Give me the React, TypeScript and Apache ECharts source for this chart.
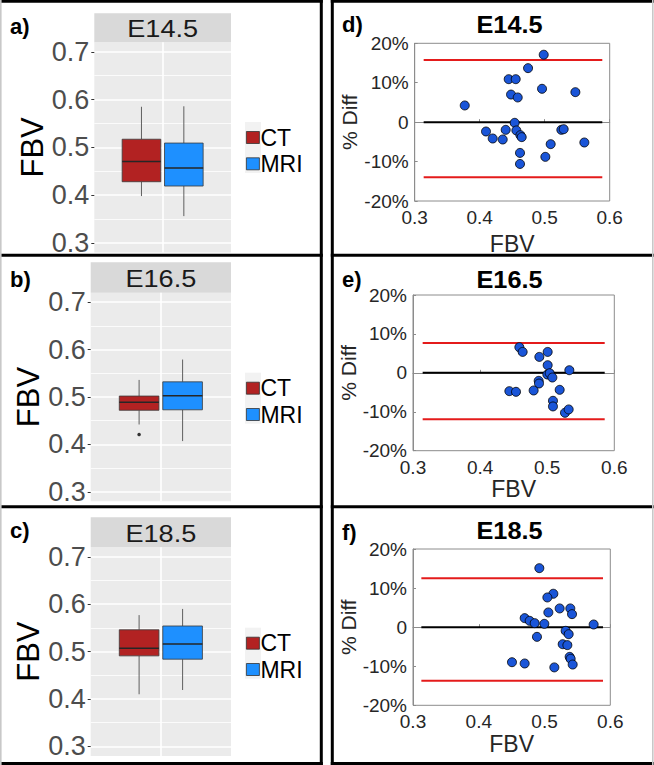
import React, { useEffect, useRef } from 'react';
import * as echarts from 'echarts';

// ---------------- DATA ----------------
const stages = ['E14.5', 'E16.5', 'E18.5'];
const groups = ['CT', 'MRI'];
const panelLettersLeft = ['a)', 'b)', 'c)'];
const panelLettersRight = ['d)', 'e)', 'f)'];

// box stats: [lower whisker, Q1, median, Q3, upper whisker]
const ctBoxes = [
  [0.398, 0.428, 0.4705, 0.517, 0.585],
  [0.442, 0.472, 0.489, 0.502, 0.536],
  [0.41, 0.491, 0.507, 0.546, 0.577],
];
const mriBoxes = [
  [0.356, 0.419, 0.457, 0.509, 0.586],
  [0.407, 0.473, 0.5025, 0.532, 0.579],
  [0.419, 0.484, 0.516, 0.554, 0.59],
];
const ctOutliers = [[], [0.421], []];
const mriOutliers = [[], [], []];
const fbvTicks = [0.3, 0.4, 0.5, 0.6, 0.7];
const fbvMinorTicks = [0.35, 0.45, 0.55, 0.65];

// Bland-Altman: mean FBV (x) and % difference (y)
const baMean145 = [0.377, 0.4446, 0.4554, 0.4482, 0.4585, 0.4744, 0.4985, 0.4959, 0.5472, 0.4538, 0.4097, 0.42, 0.4354, 0.44, 0.4564, 0.4626, 0.4646, 0.5256, 0.5292, 0.5092, 0.561, 0.462, 0.501, 0.462];
const baDiff145 = [4.23, 10.9, 10.9, 7.0, 6.26, 13.7, 17.1, 8.46, 7.61, -0.17, -2.37, -4.15, -4.4, -1.95, -2.1, -3.3, -3.8, -1.95, -1.78, -5.58, -5.16, -7.8, -8.8, -10.6];
const baMean165 = [0.4585, 0.4634, 0.4883, 0.5007, 0.5007, 0.533, 0.5002, 0.5037, 0.5077, 0.4873, 0.4878, 0.4436, 0.4535, 0.4798, 0.5186, 0.5086, 0.5086, 0.5265, 0.532];
const baDiff165 = [6.58, 5.38, 4.1, 5.38, 1.97, 0.68, -0.43, -0.09, -1.2, -2.05, -2.74, -4.7, -4.87, -4.53, -4.36, -7.18, -8.63, -10.26, -9.4];
const baMean185 = [0.4921, 0.5134, 0.5043, 0.5058, 0.523, 0.5392, 0.5418, 0.4698, 0.4774, 0.485, 0.4997, 0.5747, 0.5321, 0.5367, 0.4885, 0.5276, 0.5347, 0.5382, 0.5397, 0.5428, 0.4505, 0.4698, 0.5149];
const baDiff185 = [15.1, 8.55, 7.6, 3.76, 4.79, 4.79, 3.33, 2.31, 1.62, 1.03, 0.85, 0.68, -0.94, -1.8, -2.48, -4.36, -4.6, -7.6, -8.1, -9.57, -8.97, -9.3, -10.3];
const baMeans = [baMean145, baMean165, baMean185];
const baDiffs = [baDiff145, baDiff165, baDiff185];
const upperLoA = [15.76, 7.7, 12.5];
const lowerLoA = [-13.96, -11.9, -13.7];
const loaXStart = [0.3138, 0.3144, 0.3127];
const loaXEnd = [0.5886, 0.5857, 0.5889];

// ---------------- LAYOUT / STYLE ----------------
const FONT = '"Liberation Sans", Arial, Helvetica, sans-serif';
const CT_COLOR = '#B22222';
const MRI_COLOR = '#1E90FF';
const DODGE = 0.31;
const BOX_W = 0.565;

const boxLayout = [
  { left: 94.3, top: 42.3, width: 136.7, height: 210.1, stripTop: 13.3, nameGap: 45, legendTop: 126, letterY: 26 },
  { left: 90.7, top: 292.7, width: 140.3, height: 208.6, stripTop: 262.3, nameGap: 43, legendTop: 376.7, letterY: 279 },
  { left: 90.7, top: 547.3, width: 140.3, height: 208.6, stripTop: 517.3, nameGap: 43, legendTop: 631.7, letterY: 530 },
];
const baLayout = [
  { left: 414.7, right: 44.3, top: 43.3, height: 157.7, xNameGap: 31, titleY: 25, letterY: 24 },
  { left: 413, right: 39.7, top: 295, height: 155.7, xNameGap: 25, titleY: 280, letterY: 279 },
  { left: 413, right: 43.7, top: 549, height: 156.3, xNameGap: 24, titleY: 531, letterY: 532 },
];

const boxRender = (offset: number, fill: string) => (params: any, api: any) => {
  const x = api.value(0) + offset;
  const lo = api.value(1), q1 = api.value(2), md = api.value(3), q3 = api.value(4), hi = api.value(5);
  const pTL = api.coord([x - BOX_W / 2, q3]);
  const pBR = api.coord([x + BOX_W / 2, q1]);
  const pLo = api.coord([x, lo]);
  const pHi = api.coord([x, hi]);
  const pMd = api.coord([x, md]);
  const wStyle = { stroke: '#5f5f5f', lineWidth: 1 };
  return {
    type: 'group',
    children: [
      { type: 'line', shape: { x1: pHi[0], y1: pHi[1], x2: pHi[0], y2: pTL[1] }, style: wStyle },
      { type: 'line', shape: { x1: pLo[0], y1: pBR[1], x2: pLo[0], y2: pLo[1] }, style: wStyle },
      { type: 'rect', shape: { x: pTL[0], y: pTL[1], width: pBR[0] - pTL[0], height: pBR[1] - pTL[1] }, style: { fill, stroke: '#3a3a3a', lineWidth: 0.8 } },
      { type: 'line', shape: { x1: pTL[0], y1: pMd[1], x2: pBR[0], y2: pMd[1] }, style: { stroke: '#262626', lineWidth: 1.5 } },
    ],
  };
};

const outlierRender = (offset: number) => (params: any, api: any) => {
  const p = api.coord([api.value(0) + offset, api.value(1)]);
  return { type: 'circle', shape: { cx: p[0], cy: p[1], r: 1.8 }, style: { fill: '#333' } };
};

function buildOption() {
  const grid: any[] = [];
  const xAxis: any[] = [];
  const yAxis: any[] = [];
  const series: any[] = [];
  const legend: any[] = [];
  const graphic: any[] = [];

  // ----- box plot panels -----
  boxLayout.forEach((g, i) => {
    grid.push({ left: g.left, top: g.top, width: g.width, height: g.height, show: true, backgroundColor: '#EBEBEB', borderWidth: 0 });
    xAxis.push({
      gridIndex: i, type: 'value', min: 0, max: 2, interval: 1,
      axisLine: { show: false }, axisTick: { show: false }, axisLabel: { show: false },
      splitLine: { show: true, showMinLine: false, showMaxLine: false, lineStyle: { color: '#FFFFFF', width: 1.6 } },
    });
    yAxis.push({
      gridIndex: i, type: 'value', min: 0.28, max: 0.72,
      name: 'FBV', nameLocation: 'middle', nameGap: g.nameGap, nameRotate: 90,
      nameTextStyle: { fontSize: 31, color: '#000', fontFamily: FONT },
      axisLine: { show: false },
      axisTick: { show: true, length: 3, lineStyle: { color: '#333' }, customValues: fbvTicks },
      axisLabel: { customValues: fbvTicks, formatter: (v: number) => v.toFixed(1), fontSize: 27, color: '#4D4D4D', margin: 5, fontFamily: FONT },
      splitLine: { show: true, lineStyle: { color: '#FFFFFF', width: 1.6 } },
    });
    yAxis.push({
      gridIndex: i, type: 'value', min: 0.28, max: 0.72,
      axisLine: { show: false },
      axisTick: { show: false, customValues: fbvMinorTicks },
      axisLabel: { show: false, customValues: fbvMinorTicks },
      splitLine: { show: true, lineStyle: { color: '#FFFFFF', width: 0.8 } },
    });
    const yIdx = i * 2;
    series.push({
      type: 'custom', name: groups[0], xAxisIndex: i, yAxisIndex: yIdx,
      renderItem: boxRender(-DODGE, CT_COLOR), itemStyle: { color: CT_COLOR },
      encode: { x: 0, y: [1, 2, 3, 4, 5] },
      data: [[1, ...ctBoxes[i]]], z: 3,
    });
    series.push({
      type: 'custom', name: groups[1], xAxisIndex: i, yAxisIndex: yIdx,
      renderItem: boxRender(DODGE, MRI_COLOR), itemStyle: { color: MRI_COLOR },
      encode: { x: 0, y: [1, 2, 3, 4, 5] },
      data: [[1, ...mriBoxes[i]]], z: 3,
    });
    if (ctOutliers[i].length) {
      series.push({ type: 'custom', xAxisIndex: i, yAxisIndex: yIdx, renderItem: outlierRender(-DODGE), encode: { x: 0, y: 1 }, data: ctOutliers[i].map((v) => [1, v]), z: 4 });
    }
    if (mriOutliers[i].length) {
      series.push({ type: 'custom', xAxisIndex: i, yAxisIndex: yIdx, renderItem: outlierRender(DODGE), encode: { x: 0, y: 1 }, data: mriOutliers[i].map((v) => [1, v]), z: 4 });
    }
    // light key background like ggplot's legend key
    graphic.push({ type: 'rect', silent: true, z: -1, shape: { x: 245, y: g.legendTop - 4, width: 16, height: 51 }, style: { fill: '#F2F2F2' } });
    legend.push({
      data: groups, orient: 'vertical', left: 246, top: g.legendTop, padding: 0,
      itemWidth: 13, itemHeight: 12, itemGap: 3.3, icon: 'rect',
      itemStyle: { borderColor: '#333', borderWidth: 0.8 },
      textStyle: { fontSize: 23, lineHeight: 20, color: '#000', fontFamily: FONT, padding: [0, 0, 0, -4] },
      selectedMode: false,
    });
    // strip header
    graphic.push({ type: 'rect', silent: true, shape: { x: g.left, y: g.stripTop, width: g.width, height: g.top - g.stripTop }, style: { fill: '#D9D9D9' } });
    graphic.push({ type: 'text', silent: true, x: g.left + g.width / 2, y: (g.stripTop + g.top) / 2 + 1, scaleX: 1.13, style: { text: stages[i], fontSize: 24, fill: '#1A1A1A', align: 'center', verticalAlign: 'middle', fontFamily: FONT } });
    graphic.push({ type: 'text', silent: true, x: 10, y: g.letterY, style: { text: panelLettersLeft[i], fontSize: 22, fontWeight: 'bold', fill: '#000', align: 'left', verticalAlign: 'middle', fontFamily: FONT } });
  });

  // ----- Bland-Altman panels -----
  baLayout.forEach((g, j) => {
    const gi = 3 + j;
    grid.push({ left: g.left, right: g.right, top: g.top, height: g.height, show: true, backgroundColor: '#FFFFFF', borderColor: '#8C8C8C', borderWidth: 1 });
    xAxis.push({
      gridIndex: gi, type: 'value', min: 0.3, max: 0.6, interval: 0.1,
      name: 'FBV', nameLocation: 'middle', nameGap: g.xNameGap,
      nameTextStyle: { fontSize: 23, color: '#262626', fontFamily: FONT },
      axisLine: { show: true, lineStyle: { color: '#8C8C8C', width: 1 } },
      axisTick: { show: true, inside: true, length: 3, lineStyle: { color: '#8C8C8C' } },
      axisLabel: { formatter: (v: number) => v.toFixed(1), fontSize: 19, color: '#262626', margin: 7, fontFamily: FONT },
      splitLine: { show: false },
    });
    yAxis.push({
      gridIndex: gi, type: 'value', min: -20, max: 20, interval: 10,
      name: '% Diff', nameLocation: 'middle', nameGap: 50, nameRotate: 90,
      nameTextStyle: { fontSize: 21, color: '#262626', fontFamily: FONT },
      axisLine: { show: true, lineStyle: { color: '#8C8C8C', width: 1 } },
      axisTick: { show: true, inside: true, length: 3, lineStyle: { color: '#8C8C8C' } },
      axisLabel: { formatter: (v: number) => (v === 0 ? '0' : v + '%'), fontSize: 19, color: '#262626', margin: 6, fontFamily: FONT },
      splitLine: { show: false },
    });
    const yi = 6 + j;
    series.push({
      type: 'line', xAxisIndex: gi, yAxisIndex: yi, symbol: 'none', silent: true,
      lineStyle: { color: '#E41B1B', width: 2 },
      data: [[loaXStart[j], upperLoA[j]], [loaXEnd[j], upperLoA[j]]], z: 2,
    });
    series.push({
      type: 'line', xAxisIndex: gi, yAxisIndex: yi, symbol: 'none', silent: true,
      lineStyle: { color: '#E41B1B', width: 2 },
      data: [[loaXStart[j], lowerLoA[j]], [loaXEnd[j], lowerLoA[j]]], z: 2,
    });
    series.push({
      type: 'line', xAxisIndex: gi, yAxisIndex: yi, symbol: 'none', silent: true,
      lineStyle: { color: '#000000', width: 2 },
      data: [[loaXStart[j], 0], [loaXEnd[j], 0]], z: 2,
    });
    series.push({
      type: 'scatter', xAxisIndex: gi, yAxisIndex: yi, symbolSize: 9,
      itemStyle: { color: '#1A55D8', borderColor: '#000', borderWidth: 0.8, opacity: 1 },
      data: baMeans[j].map((m, k) => [m, baDiffs[j][k]]), z: 5,
    });
    graphic.push({ type: 'text', silent: true, x: 509.5, y: g.titleY, scaleX: 1.1, style: { text: stages[j], fontSize: 23, fontWeight: 'bold', fill: '#000', align: 'center', verticalAlign: 'middle', fontFamily: FONT } });
    graphic.push({ type: 'text', silent: true, x: 342, y: g.letterY, style: { text: panelLettersRight[j], fontSize: 22, fontWeight: 'bold', fill: '#000', align: 'left', verticalAlign: 'middle', fontFamily: FONT } });
  });

  // ----- panel frames -----
  const B = { stroke: '#000', lineWidth: 3 };
  const rowLines = [1.3, 255.3, 506.7, 763.5];
  rowLines.forEach((y) => {
    graphic.push({ type: 'line', silent: true, z: 100, shape: { x1: 0, y1: y, x2: 322.8, y2: y }, style: B });
    graphic.push({ type: 'line', silent: true, z: 100, shape: { x1: 330.8, y1: y, x2: 654, y2: y }, style: B });
  });
  graphic.push({ type: 'line', silent: true, z: 100, shape: { x1: 321.3, y1: 0, x2: 321.3, y2: 765 }, style: B });
  graphic.push({ type: 'line', silent: true, z: 100, shape: { x1: 332.3, y1: 0, x2: 332.3, y2: 765 }, style: B });
  graphic.push({ type: 'line', silent: true, z: 100, shape: { x1: 0.8, y1: 0, x2: 0.8, y2: 765 }, style: { stroke: '#C8C8C8', lineWidth: 1.6 } });
  graphic.push({ type: 'line', silent: true, z: 100, shape: { x1: 652.8, y1: 0, x2: 652.8, y2: 765 }, style: { stroke: '#C8C8C8', lineWidth: 1.6 } });

  return {
    animation: false,
    backgroundColor: '#FFFFFF',
    textStyle: { fontFamily: FONT },
    grid, xAxis, yAxis, series, legend, graphic,
  };
}

export default function App() {
  const ref = useRef<HTMLDivElement>(null);
  useEffect(() => {
    if (!ref.current) return;
    const chart = echarts.init(ref.current, undefined, { renderer: 'svg' });
    chart.setOption(buildOption() as any);
    return () => chart.dispose();
  }, []);
  return <div ref={ref} style={{ position: 'absolute', left: 0, top: 0, width: 654, height: 765 }} />;
}
